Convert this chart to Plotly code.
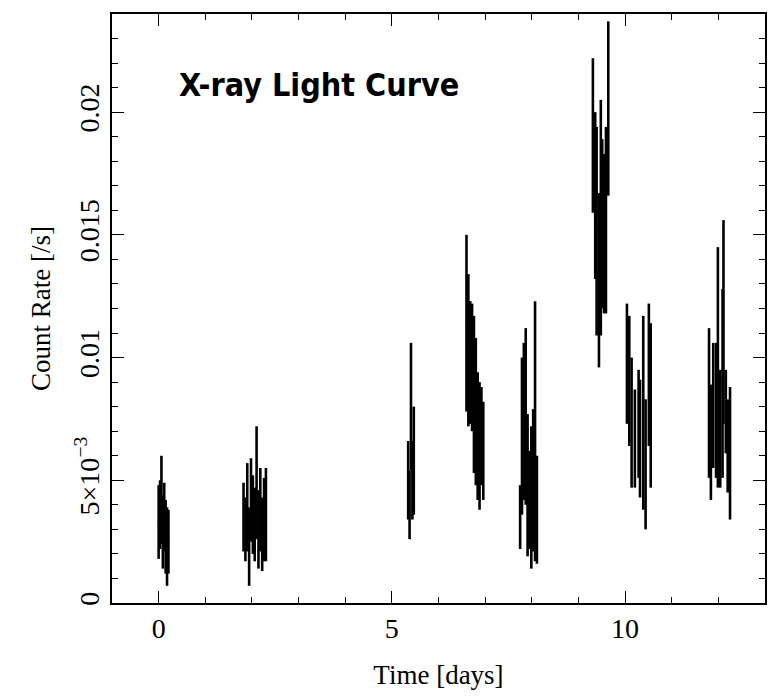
import plotly.graph_objects as go

# ---- data (time in days, count rate in 1e-3 /s, symmetric error in 1e-3 /s) ----
t1 = [0.00, 0.03, 0.06, 0.09, 0.12, 0.15, 0.18, 0.21]
r1 = [3.3, 3.6, 4.2, 2.9, 3.5, 2.7, 2.3, 2.5]
e1 = [1.5, 1.4, 1.8, 1.5, 1.4, 1.5, 1.6, 1.3]

t2 = [1.82, 1.86, 1.90, 1.94, 1.98, 2.02, 2.06, 2.10, 2.14, 2.18, 2.22, 2.26, 2.30]
r2 = [3.5, 3.0, 3.9, 2.3, 4.2, 3.6, 3.2, 4.9, 3.0, 3.8, 2.8, 3.4, 3.6]
e2 = [1.4, 1.3, 1.8, 1.6, 1.7, 1.6, 1.5, 2.3, 1.6, 1.7, 1.5, 1.7, 1.9]

t3 = [5.35, 5.38, 5.41, 5.44, 5.47]
r3 = [5.0, 4.0, 8.0, 5.0, 5.8]
e3 = [1.6, 1.4, 2.6, 1.6, 2.2]

t4 = [6.60, 6.64, 6.68, 6.72, 6.76, 6.80, 6.84, 6.88, 6.92, 6.96]
r4 = [11.4, 10.3, 9.8, 9.6, 8.5, 7.8, 6.8, 6.4, 6.8, 6.2]
e4 = [3.6, 3.1, 2.5, 2.6, 3.2, 3.0, 2.6, 2.6, 2.0, 2.0]

t5 = [7.75, 7.79, 7.83, 7.87, 7.91, 7.95, 7.99, 8.03, 8.07, 8.11]
r5 = [3.5, 6.8, 7.4, 7.6, 4.8, 4.2, 4.3, 5.0, 7.0, 3.8]
e5 = [1.3, 3.2, 3.2, 3.6, 2.9, 2.0, 2.9, 2.9, 5.3, 2.2]

t6 = [9.31, 9.36, 9.39, 9.44, 9.48, 9.51, 9.55, 9.59, 9.64]
r6 = [19.05, 16.6, 15.15, 13.15, 15.7, 15.45, 15.05, 15.6, 20.15]
e6 = [3.15, 3.4, 4.25, 3.55, 4.8, 3.45, 3.25, 3.8, 3.55]

t7 = [10.04, 10.09, 10.14, 10.21, 10.29, 10.32, 10.39, 10.44, 10.51, 10.55]
r7 = [9.75, 9.05, 7.35, 6.7, 7.3, 6.7, 7.75, 5.65, 9.3, 8.05]
e7 = [2.45, 2.65, 2.65, 2.0, 2.2, 2.4, 3.95, 2.65, 2.9, 3.35]

t8 = [11.80, 11.84, 11.89, 11.95, 11.99, 12.04, 12.09, 12.11, 12.16, 12.20, 12.25]
r8 = [8.15, 6.55, 8.05, 7.85, 9.6, 7.1, 8.95, 11.45, 7.8, 6.4, 6.1]
e8 = [3.05, 2.35, 2.55, 2.75, 4.9, 2.4, 3.85, 4.15, 1.7, 1.9, 2.7]

x_tick_vals = [0, 5, 10]
x_tick_text = ["0", "5", "10"]
y_tick_vals = [0, 0.005, 0.01, 0.015, 0.02]
y_tick_text = ["0", "5×10<sup>−3</sup>", "0.01", "0.015", "0.02"]

times = t1 + t2 + t3 + t4 + t5 + t6 + t7 + t8
rates = [v * 1e-3 for v in r1 + r2 + r3 + r4 + r5 + r6 + r7 + r8]
errs = [v * 1e-3 for v in e1 + e2 + e3 + e4 + e5 + e6 + e7 + e8]

fig = go.Figure()
fig.add_trace(go.Scatter(
    x=times, y=rates, mode="markers",
    marker=dict(size=1, color="black"),
    error_y=dict(type="data", array=errs, visible=True, color="black",
                 thickness=2.6, width=0),
    error_x=dict(type="constant", value=0.015, visible=True, color="black",
                 thickness=2, width=0),
    showlegend=False, hoverinfo="x+y",
))

serif = "Liberation Serif, Times New Roman, serif"
axis_common = dict(
    showline=True, linecolor="black", linewidth=1.5, mirror="allticks",
    ticks="inside", ticklen=12, tickwidth=1.3, tickcolor="black",
    showgrid=False, zeroline=False,
    tickfont=dict(family=serif, size=28, color="black"),
)

fig.update_xaxes(
    range=[-1, 13], tickvals=x_tick_vals, ticktext=x_tick_text,
    minor=dict(dtick=1, tick0=0, ticks="inside", ticklen=6, tickwidth=1.2,
               tickcolor="black", showgrid=False),
    title=dict(text="Time [days]", font=dict(family=serif, size=27, color="black"),
               standoff=22),
    **axis_common,
)
fig.update_yaxes(
    range=[0, 0.024], tickvals=y_tick_vals, ticktext=y_tick_text, tickangle=-90,
    minor=dict(dtick=0.001, tick0=0, ticks="inside", ticklen=6, tickwidth=1.2,
               tickcolor="black", showgrid=False),
    title=dict(text="Count Rate [/s]", font=dict(family=serif, size=27, color="black"),
               standoff=12),
    **axis_common,
)

fig.add_annotation(
    text="<b>X-ray Light Curve</b>", xref="paper", yref="paper",
    x=(177 - 112) / 653, y=1 - (83 - 12) / 591, xanchor="left", yanchor="middle",
    showarrow=False,
    font=dict(family="DejaVu Sans Condensed, DejaVu Sans, sans-serif", size=32, color="black"),
)

fig.update_layout(
    width=780, height=697,
    margin=dict(l=112, r=15, t=12, b=94),
    paper_bgcolor="white", plot_bgcolor="white",
)

fig.write_html("out.html")
